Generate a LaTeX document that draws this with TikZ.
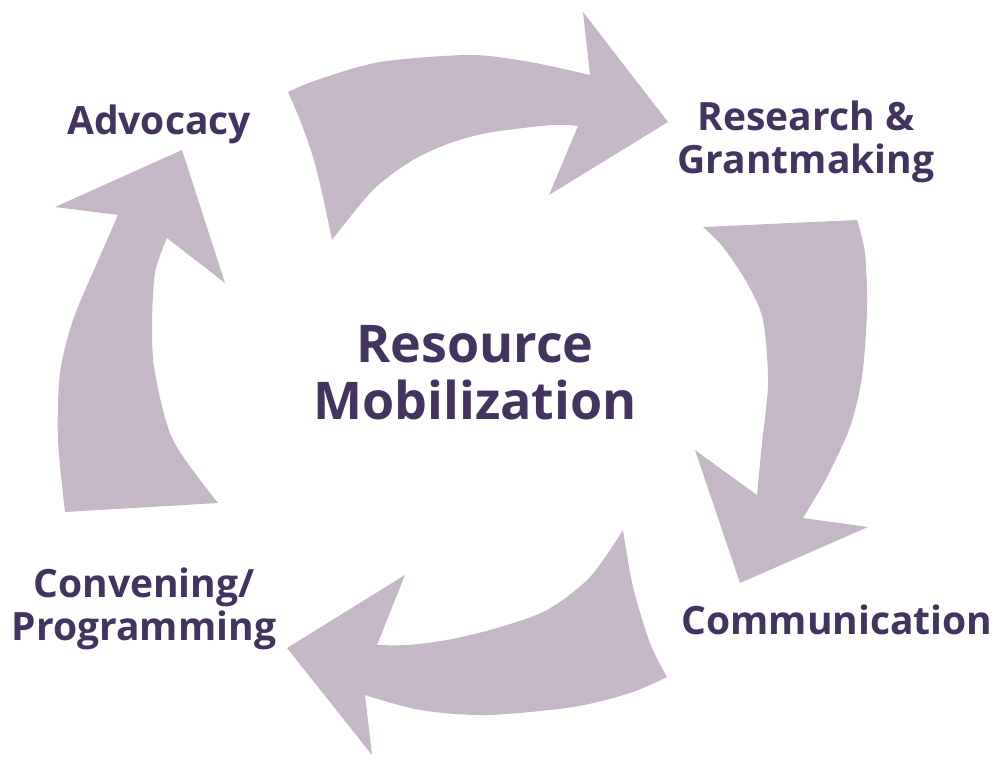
\documentclass[tikz,border=0pt]{standalone}
\usepackage{xcolor}
\usepackage{fontspec}
\usepackage{tikz}
\setmainfont{Open Sans}

\definecolor{arrowmauve}{HTML}{C4B8C6}
\definecolor{labelpurple}{HTML}{42345F}

\begin{document}
\begin{tikzpicture}[x=1pt, y=-1pt,
    cyclearrow/.style={fill=arrowmauve, draw=none},
    steplabel/.style={draw=none, text=labelpurple, font=\bfseries\fontsize{39}{43}\selectfont, align=center, inner sep=0pt},
    centrelabel/.style={draw=none, text=labelpurple, font=\bfseries\fontsize{52}{57}\selectfont, align=center, inner sep=0pt}]
     \useasboundingbox (0, 0) rectangle (997, 756);

     % top arrow
     \fill[cyclearrow] (288, 92) -- plot[smooth] coordinates {(288, 92) (317, 80) (380, 62) (470, 55) (530, 62) (590, 75)}
          -- (583, 12) -- (668, 122) -- (549, 195) -- (578, 126)
          -- plot[smooth] coordinates {(578, 126) (553, 125) (493, 132) (453, 142) (413, 160) (373, 190) (332, 240)}
          -- plot[smooth] coordinates {(332, 240) (323, 197) (313, 157) (300, 120) (288, 92)} -- cycle;

     % right arrow
     \fill[cyclearrow] (703, 227) -- (857, 220)
          -- plot[smooth] coordinates {(857, 220) (865, 253) (867, 310) (862, 377) (850, 427) (827, 477) (803, 518)}
          -- (868, 527) -- (740, 583) -- (695, 450) -- (757, 495)
          -- plot[smooth] coordinates {(757, 495) (762, 443) (768, 383) (763, 320) (747, 283) (723, 247) (703, 227)} -- cycle;

     % bottom arrow
     \fill[cyclearrow] (623, 530) -- plot[smooth] coordinates {(623, 530) (633, 587) (650, 643) (667, 677)}
          -- plot[smooth] coordinates {(667, 677) (630, 693) (573, 707) (487, 715) (420, 710) (365, 695)}
          -- (372, 755) -- (287, 648) -- (405, 575) -- (377, 645)
          -- plot[smooth] coordinates {(377, 645) (407, 645) (447, 640) (497, 628) (547, 610) (590, 577) (623, 530)} -- cycle;

     % left arrow
     \fill[cyclearrow] (65, 512) -- (218, 503)
          -- plot[smooth] coordinates {(218, 503) (173, 440) (155, 373) (152, 327) (155, 273) (167, 238)}
          -- (225, 283) -- (182, 150) -- (55, 207) -- (118, 215)
          -- plot[smooth] coordinates {(118, 215) (97, 263) (73, 320) (60, 373) (58, 440) (65, 512)} -- cycle;

     % labels (base = last line)
     \node[steplabel, anchor=base] (advocacy) at (159, 134) {Advocacy};
     \node[steplabel, anchor=base] (research) at (806, 173) {Research \&\\Grantmaking};
     \node[steplabel, anchor=base] (communication) at (837, 634) {Communication};
     \node[steplabel, anchor=base] (convening) at (144, 640) {Convening/\\Programming};
     \node[centrelabel, anchor=base] (mobilization) at (475, 419) {Resource\\Mobilization};
\end{tikzpicture}
\end{document}
